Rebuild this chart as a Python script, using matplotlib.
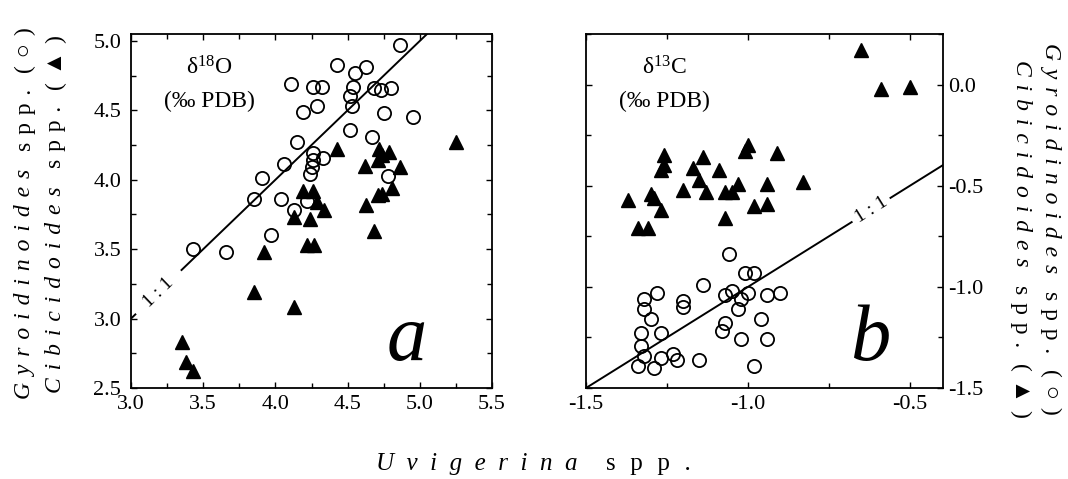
import numpy as np
import matplotlib.pyplot as plt
from matplotlib.ticker import MultipleLocator, FormatStrFormatter

plt.rcParams['font.family'] = ['Liberation Serif', 'DejaVu Sans']
plt.rcParams['mathtext.fontset'] = 'custom'
plt.rcParams['mathtext.rm'] = 'Liberation Serif'
plt.rcParams['mathtext.it'] = 'Liberation Serif:italic'
plt.rcParams['axes.unicode_minus'] = False

# panel a: d18O, Uvigerina (x) vs Gyroidinoides (circles) / Cibicidoides (triangles)
o18_gyr_x = [4.86, 4.43, 4.55, 4.63, 4.11, 4.26, 4.32, 4.54, 4.68, 4.73, 4.80, 4.52,
             4.53, 4.19, 4.29, 4.75, 4.95, 4.52, 4.67, 4.15, 4.26, 4.33, 4.26, 4.06,
             4.25, 4.24, 3.91, 4.78, 3.85, 4.04, 4.13, 4.22, 3.97, 3.43, 3.66]
o18_gyr_y = [4.97, 4.83, 4.77, 4.81, 4.69, 4.67, 4.67, 4.67, 4.66, 4.65, 4.66, 4.60,
             4.53, 4.49, 4.53, 4.48, 4.45, 4.36, 4.31, 4.27, 4.19, 4.16, 4.14, 4.11,
             4.09, 4.04, 4.01, 4.03, 3.86, 3.86, 3.78, 3.85, 3.60, 3.50, 3.48]
o18_cib_x = [5.25, 4.43, 4.72, 4.79, 4.62, 4.71, 4.74, 4.86, 4.81, 4.74, 4.71, 4.63,
             4.68, 4.19, 4.26, 4.29, 4.34, 4.13, 4.24, 4.22, 4.27, 3.92, 3.85, 4.13,
             3.35, 3.38, 3.43]
o18_cib_y = [4.27, 4.22, 4.22, 4.20, 4.10, 4.14, 4.18, 4.09, 3.94, 3.90, 3.89, 3.82,
             3.63, 3.92, 3.92, 3.84, 3.78, 3.73, 3.72, 3.53, 3.53, 3.48, 3.19, 3.08,
             2.83, 2.69, 2.62]

# panel b: d13C
c13_gyr_x = [-1.06, -1.01, -0.98, -1.14, -1.28, -1.32, -1.20, -1.20, -1.32, -1.30,
             -1.33, -1.27, -1.33, -1.32, -1.34, -1.29, -1.27, -1.23, -1.22, -1.15,
             -1.07, -1.05, -1.02, -1.00, -0.94, -0.90, -1.03, -0.96, -1.07, -1.08,
             -1.02, -0.94, -0.98]
c13_gyr_y = [-0.84, -0.93, -0.93, -0.99, -1.03, -1.06, -1.07, -1.10, -1.11, -1.16,
             -1.23, -1.23, -1.29, -1.34, -1.39, -1.40, -1.35, -1.33, -1.36, -1.36,
             -1.04, -1.02, -1.06, -1.03, -1.04, -1.03, -1.11, -1.16, -1.18, -1.22,
             -1.26, -1.26, -1.39]
c13_cib_x = [-0.65, -0.59, -0.50, -1.00, -1.01, -0.91, -1.26, -1.26, -1.27, -1.14,
             -1.17, -1.09, -1.15, -1.13, -1.20, -1.03, -1.07, -1.05, -0.94, -0.83,
             -1.30, -1.29, -1.37, -1.27, -0.98, -0.94, -1.07, -1.34, -1.31]
c13_cib_y = [0.17, -0.02, -0.01, -0.30, -0.33, -0.34, -0.35, -0.40, -0.42, -0.36,
             -0.41, -0.42, -0.47, -0.53, -0.52, -0.49, -0.53, -0.53, -0.49, -0.48,
             -0.54, -0.56, -0.57, -0.62, -0.60, -0.59, -0.66, -0.71, -0.71]

W, H = 1068, 479
fig = plt.figure(figsize=(W / 100, H / 100), dpi=100)


def box(x0, y0, x1, y1):
    return [x0 / W, 1 - y1 / H, (x1 - x0) / W, (y1 - y0) / H]


ax1 = fig.add_axes(box(131, 34, 492, 388))
ax2 = fig.add_axes(box(586, 34, 943, 388))

for ax in (ax1, ax2):
    ax.xaxis.set_major_locator(MultipleLocator(0.5))
    ax.xaxis.set_minor_locator(MultipleLocator(0.25))
    ax.yaxis.set_major_locator(MultipleLocator(0.5))
    ax.yaxis.set_minor_locator(MultipleLocator(0.25))
    ax.xaxis.set_major_formatter(FormatStrFormatter('%.1f'))
    ax.yaxis.set_major_formatter(FormatStrFormatter('%.1f'))
    ax.tick_params(which='both', direction='in', top=True, right=True, left=True,
                   width=1.0, labelsize=16)
    ax.tick_params(which='major', length=4.5)
    ax.tick_params(which='minor', length=3.5)
    for s in ax.spines.values():
        s.set_linewidth(1.3)

ax1.tick_params(axis='y', pad=7)
ax1.tick_params(axis='x', pad=5)
ax2.tick_params(axis='y', labelleft=False, labelright=True, pad=4)
ax2.tick_params(axis='x', pad=5)

ax1.set_xlim(3.0, 5.5)
ax1.set_ylim(2.5, 5.05)
ax2.set_xlim(-1.5, -0.398)
ax2.set_ylim(-1.5, 0.25)

circ = dict(ls='none', marker='o', mfc='none', mec='k', ms=9.5, mew=1.3)
tri = dict(ls='none', marker='^', color='k', ms=9.5)

ax1.plot(o18_gyr_x, o18_gyr_y, **circ)
ax1.plot(o18_cib_x, o18_cib_y, **tri)
ax2.plot(c13_gyr_x, c13_gyr_y, **circ)
ax2.plot(c13_cib_x, c13_cib_y, **tri)

# 1:1 lines with a gap for the label
one = np.array([3.0, 3.03])
two = np.array([3.35, 5.05])
ax1.plot(one, one, color='k', lw=1.4)
ax1.plot(two, two, color='k', lw=1.4)
ax1.text(3.19, 3.19, '1 : 1', rotation=45, transform_rotates_text=True,
         ha='center', va='center', fontsize=14)

one = np.array([-1.5, -0.68])
two = np.array([-0.56, -0.398])
ax2.plot(one, one, color='k', lw=1.4)
ax2.plot(two, two, color='k', lw=1.4)
ax2.text(-0.62, -0.62, '1 : 1', rotation=45, transform_rotates_text=True,
         ha='center', va='center', fontsize=14)

ax1.text(0.216, 0.905, r'$\mathrm{\delta^{18}O}$', transform=ax1.transAxes,
         ha='center', va='center', fontsize=17)
ax1.text(0.216, 0.81, '(‰ PDB)', transform=ax1.transAxes,
         ha='center', va='center', fontsize=17)
ax2.text(0.221, 0.905, r'$\mathrm{\delta^{13}C}$', transform=ax2.transAxes,
         ha='center', va='center', fontsize=17)
ax2.text(0.221, 0.81, '(‰ PDB)', transform=ax2.transAxes,
         ha='center', va='center', fontsize=17)

ax1.text(0.765, 0.079, 'a', transform=ax1.transAxes, ha='center', va='baseline',
         fontsize=58, style='italic')
ax2.text(0.795, 0.079, 'b', transform=ax2.transAxes, ha='center', va='baseline',
         fontsize=58, style='italic')

rend = fig.canvas.get_renderer()
SEP = '\u2004'


def spaced(s, sep=SEP):
    return sep.join(s)


def column(xc, ystart, pieces, rot, size=17):
    y = ystart
    for txt, st, gap in pieces:
        if rot == 90:
            t = fig.text(xc / W, 1 - y / H, txt, rotation=90, ha='center',
                         va='bottom', fontsize=size, style=st)
            bb = t.get_window_extent(rend)
            y = H - bb.y1 - gap
        else:
            t = fig.text(xc / W, 1 - y / H, txt, rotation=270, ha='center',
                         va='top', fontsize=size, style=st)
            bb = t.get_window_extent(rend)
            y = H - bb.y0 + gap


gyr = [(spaced('Gyroidinoides'), 'italic', 18), (spaced('spp.'), 'normal', 16),
       ('(' + SEP + '○' + SEP + ')', 'normal', 0)]
cib = [(spaced('Cibicidoides'), 'italic', 18), (spaced('spp.'), 'normal', 16),
       ('(' + SEP + '▲' + SEP + ')', 'normal', 0)]

column(25, 399, gyr, 90)
column(56, 393, cib, 90)
column(1051, 43, gyr, 270)
column(1021, 60, cib, 270)

# x label
x = 376
for txt, st in [(spaced('Uvigerina', '  '), 'italic'), (spaced('spp.', ' \u2004'), 'normal')]:
    t = fig.text(x / W, 1 - 470 / H, txt, ha='left', va='baseline', fontsize=18, style=st)
    bb = t.get_window_extent(rend)
    x = bb.x1 + 28

fig.savefig('out.png', dpi=100)
